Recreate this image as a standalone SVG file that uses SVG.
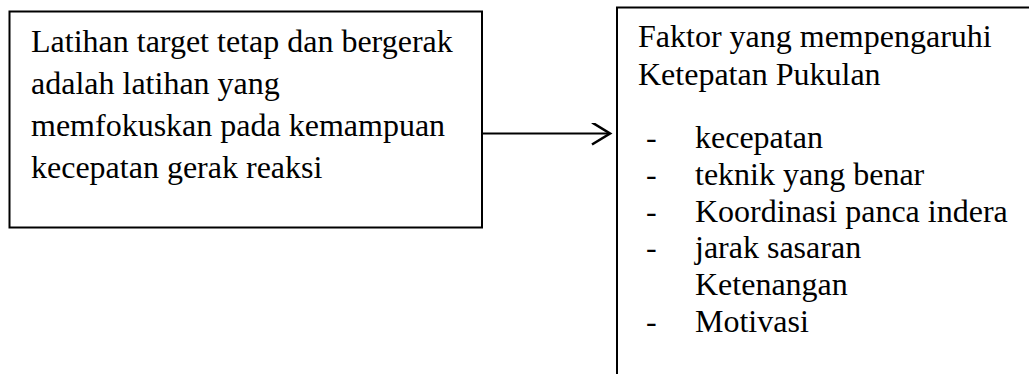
<svg xmlns="http://www.w3.org/2000/svg" width="1029" height="374" viewBox="0 0 1029 374">
  <style>
    .box { fill: #ffffff; stroke: #000000; stroke-width: 2; }
    .t { font-family: "Liberation Serif", "Times New Roman", serif; font-size: 32px; fill: #000000; }
    .conn { fill: none; stroke: #000000; stroke-width: 2.2; }
  </style>
  <defs>
    <marker id="chev" markerUnits="userSpaceOnUse" markerWidth="24" markerHeight="26" refX="19" refY="11" orient="auto" viewBox="0 0 24 26">
      <path d="M1,0 L19,11 L1,22" fill="none" stroke="#000000" stroke-width="2.6"/>
    </marker>
  </defs>
  <rect x="0" y="0" width="1029" height="374" fill="#ffffff"/>

  <g id="node-latihan">
    <rect class="box" x="9.5" y="11.5" width="472.5" height="216"/>
    <text class="t" x="31" y="52">Latihan target tetap dan bergerak</text>
    <text class="t" x="31" y="94">adalah latihan yang</text>
    <text class="t" x="31" y="136">memfokuskan pada kemampuan</text>
    <text class="t" x="31" y="178">kecepatan gerak reaksi</text>
  </g>

  <g id="node-faktor">
    <rect class="box" x="617" y="7.5" width="430" height="390"/>
    <text class="t" x="638" y="47">Faktor yang mempengaruhi</text>
    <text class="t" x="638" y="85">Ketepatan Pukulan</text>
    <text class="t" x="646" y="148">-</text>
    <text class="t" x="695" y="148">kecepatan</text>
    <text class="t" x="646" y="185">-</text>
    <text class="t" x="695" y="185">teknik yang benar</text>
    <text class="t" x="646" y="222">-</text>
    <text class="t" x="695" y="222">Koordinasi panca indera</text>
    <text class="t" x="646" y="258">-</text>
    <text class="t" x="695" y="258">jarak sasaran</text>
    <text class="t" x="695" y="295">Ketenangan</text>
    <text class="t" x="646" y="332">-</text>
    <text class="t" x="695" y="332">Motivasi</text>
  </g>

  <g id="connectors">
    <line class="conn" x1="482" y1="133.5" x2="610" y2="133.5" marker-end="url(#chev)"/>
  </g>
</svg>
